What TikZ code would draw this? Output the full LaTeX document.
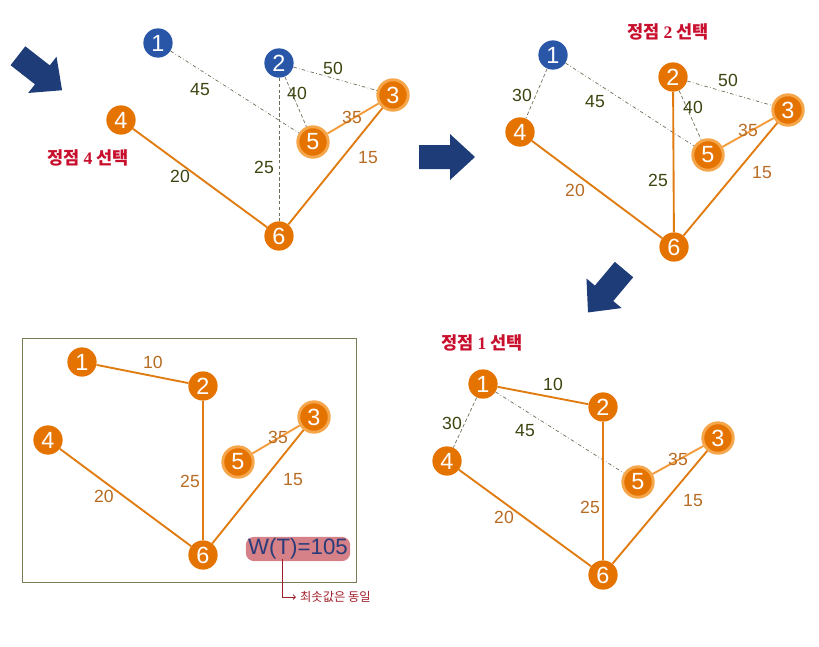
\documentclass[tikz,border=0pt]{standalone}
\usepackage{fontspec}
\setmainfont{Liberation Sans}
\newfontfamily\krfont{Noto Sans CJK KR}
\newfontfamily\numfont{Liberation Serif}
\usetikzlibrary{arrows.meta}

\definecolor{vorange}{RGB}{229,115,0}
\definecolor{vring}{RGB}{246,166,74}
\definecolor{vblue}{RGB}{42,86,168}
\definecolor{lolive}{RGB}{60,68,16}
\definecolor{lbrown}{RGB}{184,107,34}
\definecolor{tred}{RGB}{200,16,46}
\definecolor{ablue}{RGB}{30,60,120}
\definecolor{egray}{RGB}{110,110,90}
\definecolor{eorange}{RGB}{224,123,16}
\definecolor{elight}{RGB}{243,154,58}
\definecolor{boxline}{RGB}{122,122,85}
\definecolor{hpink}{RGB}{214,128,136}
\definecolor{wtblue}{RGB}{43,60,122}
\definecolor{nred}{RGB}{160,30,42}

\tikzset{
  vtx/.style={circle, fill=vorange, text=white, minimum size=25pt, inner sep=0pt,
    font=\fontsize{20}{20}\selectfont},
  vbig/.style={vtx, minimum size=26pt, draw=vring, line width=2.5pt},
  vblu/.style={vtx, fill=vblue},
  sel/.style={draw=eorange, line width=1.6pt},
  lite/.style={draw=elight, line width=1.6pt},
  dd/.style={draw=egray, line width=0.6pt, dash dot},
  dt/.style={draw=egray, line width=0.6pt, densely dashed},
  wol/.style={text=lolive, font=\fontsize{15}{15}\selectfont},
  wbr/.style={text=lbrown, font=\fontsize{15}{15}\selectfont},
  ttl/.style={text=tred, font=\krfont\bfseries\fontsize{15}{15}\selectfont},
  barrow/.style={fill=ablue}
}

\newcommand\bigarrow[2]{%
  \begin{scope}[shift={#1}, rotate=#2]
    \fill[barrow] (-28,-12) -- (3,-12) -- (3,-23) -- (28,0) -- (3,23) -- (3,12) -- (-28,12) -- cycle;
  \end{scope}}

\begin{document}
\begin{tikzpicture}[x=0.03cm, y=-0.03cm]
    \useasboundingbox (0,0) rectangle (819,646);

    % step arrows
    \bigarrow{(40,73)}{-38}
    \bigarrow{(447,157)}{0}
    \bigarrow{(606,291)}{-130}

    % panel: vertex 4
    \node[vblu] (a1) at (158,43) {1};
    \node[vblu] (a2) at (279,63) {2};
    \node[vbig] (a3) at (393,95) {3};
    \node[vtx]  (a4) at (121,120) {4};
    \node[vbig] (a5) at (313,142) {5};
    \node[vtx]  (a6) at (279,236) {6};
    \draw[dd] (a1) -- (a5);
    \draw[dd] (a2) -- (a3);
    \draw[dt] (a2) -- (a5);
    \draw[dt] (a2) -- (a6);
    \draw[lite] (a5) -- (a3);
    \draw[sel] (a4) -- (a6);
    \draw[sel] (a6) -- (a3);
    \node[wol] (a45) at (200,90) {45};
    \node[wol] (a50) at (333,68) {50};
    \node[wol] (a40) at (297,93) {40};
    \node[wol] (a25) at (264,167) {25};
    \node[wbr] (a35) at (352,117) {35};
    \node[wol] (a20) at (180,176) {20};
    \node[wbr] (a15) at (368,158) {15};
    \node[ttl] (ta) at (88,158) {정점 {\numfont 4} 선택};

    % panel: vertex 2
    \node[vblu] (b1) at (553,55) {1};
    \node[vtx]  (b2) at (673,77) {2};
    \node[vbig] (b3) at (788,110) {3};
    \node[vtx]  (b4) at (520,132) {4};
    \node[vbig] (b5) at (708,155) {5};
    \node[vtx]  (b6) at (674,247) {6};
    \draw[dt] (b1) -- (b4);
    \draw[dd] (b1) -- (b5);
    \draw[dd] (b2) -- (b3);
    \draw[dt] (b2) -- (b5);
    \draw[sel] (b2) -- (b6);
    \draw[sel] (b4) -- (b6);
    \draw[lite] (b5) -- (b3);
    \draw[sel] (b6) -- (b3);
    \node[wol] (b30) at (522,95) {30};
    \node[wol] (b45) at (595,102) {45};
    \node[wol] (b50) at (728,80) {50};
    \node[wol] (b40) at (693,107) {40};
    \node[wol] (b25) at (658,180) {25};
    \node[wbr] (b20) at (575,190) {20};
    \node[wbr] (b35) at (748,130) {35};
    \node[wbr] (b15) at (762,173) {15};
    \node[ttl] (tb) at (668,32) {정점 {\numfont 2} 선택};

    % panel: vertex 1
    \node[vtx]  (d1) at (483,384) {1};
    \node[vtx]  (d2) at (603,407) {2};
    \node[vbig] (d3) at (718,438) {3};
    \node[vtx]  (d4) at (447,461) {4};
    \node[vbig] (d5) at (638,482) {5};
    \node[vtx]  (d6) at (603,575) {6};
    \draw[sel] (d1) -- (d2);
    \draw[dt] (d1) -- (d4);
    \draw[dd] (d1) -- (d5);
    \draw[sel] (d2) -- (d6);
    \draw[sel] (d4) -- (d6);
    \draw[lite] (d5) -- (d3);
    \draw[sel] (d6) -- (d3);
    \node[wol] (d10) at (553,384) {10};
    \node[wol] (d30) at (452,423) {30};
    \node[wol] (d45) at (525,431) {45};
    \node[wbr] (d25) at (590,507) {25};
    \node[wbr] (d20) at (504,517) {20};
    \node[wbr] (d35) at (678,459) {35};
    \node[wbr] (d15) at (693,501) {15};
    \node[ttl] (td) at (482,343) {정점 {\numfont 1} 선택};

    % result tree
    \draw[boxline, line width=0.8pt] (22,338) rectangle (356,582);
    \node[vtx]  (c1) at (82,362) {1};
    \node[vtx]  (c2) at (203,386) {2};
    \node[vbig] (c3) at (314,417) {3};
    \node[vtx]  (c4) at (48,440) {4};
    \node[vbig] (c5) at (238,462) {5};
    \node[vtx]  (c6) at (203,555) {6};
    \draw[sel] (c1) -- (c2);
    \draw[sel] (c2) -- (c6);
    \draw[sel] (c4) -- (c6);
    \draw[lite] (c5) -- (c3);
    \draw[sel] (c6) -- (c3);
    \node[wbr] (c10) at (153,362) {10};
    \node[wbr] (c25) at (190,481) {25};
    \node[wbr] (c20) at (104,496) {20};
    \node[wbr] (c35) at (278,437) {35};
    \node[wbr] (c15) at (293,480) {15};
    \node[fill=hpink, rounded corners=7pt, inner xsep=2pt, inner ysep=1.5pt, text=wtblue,
      font=\fontsize{19}{19}\selectfont] (wt) at (298,549) {W(T)=105};
    \coordinate (wtT) at (282,559);
    \node[text=nred, font=\krfont\fontsize{10.5}{10.5}\selectfont, anchor=west] (note) at (296,597) {최솟값은 동일};
    \draw[nred, line width=0.7pt, -{Straight Barb[length=2pt]}] (wtT) |- (note.west);
\end{tikzpicture}
\end{document}
